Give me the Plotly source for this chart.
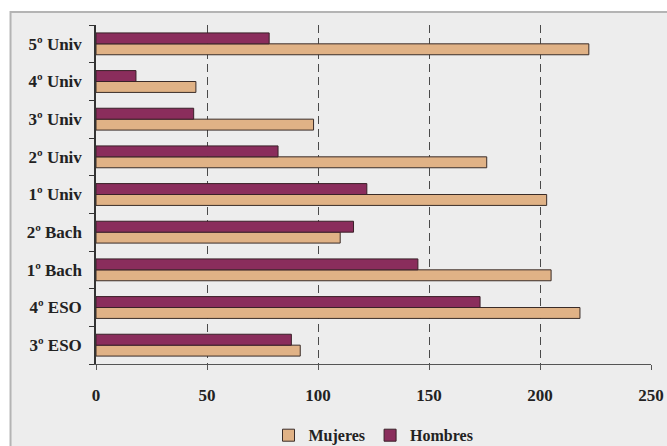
import plotly.graph_objects as go

categories = ["3º ESO", "4º ESO", "1º Bach", "2º Bach", "1º Univ", "2º Univ", "3º Univ", "4º Univ", "5º Univ"]
mujeres = [92, 218, 205, 110, 203, 176, 98, 45, 222]
hombres = [88, 173, 145, 116, 122, 82, 44, 18, 78]
x_ticks = [0, 50, 100, 150, 200, 250]

font_family = "Liberation Serif"

fig = go.Figure()
fig.add_trace(go.Bar(
    y=categories, x=mujeres, name="Mujeres", orientation="h",
    marker=dict(color="#e0b286", line=dict(color="#3a2c28", width=1)),
))
fig.add_trace(go.Bar(
    y=categories, x=hombres, name="Hombres", orientation="h",
    marker=dict(color="#8a2d5c", line=dict(color="#3a2028", width=1)),
))

fig.update_layout(
    width=667, height=446,
    margin=dict(l=95.5, r=16, t=25, b=82, autoexpand=False),
    paper_bgcolor="white",
    plot_bgcolor="rgba(0,0,0,0)",
    barmode="group",
    bargap=0.42,
    bargroupgap=0,
    font=dict(family=font_family, size=17, color="#222222"),
    showlegend=True,
    legend=dict(
        orientation="h", x=0.5, xanchor="center",
        yref="container", y=0.024, yanchor="middle",
        font=dict(family=font_family, size=16, color="#222222", weight="bold"),
        bgcolor="rgba(0,0,0,0)", traceorder="normal",
    ),
    shapes=[dict(
        type="rect", xref="paper", yref="paper",
        x0=-0.154, x1=1.2, y0=-0.5, y1=1.038,
        fillcolor="#ededed", line=dict(color="#b4b4b4", width=2),
        layer="below",
    )],
)

fig.update_xaxes(
    range=[0, 250], tickvals=x_ticks, ticktext=[str(v) for v in x_ticks],
    showgrid=True, gridcolor="#4a4a4a", griddash="8px,5px", gridwidth=1,
    showline=True, linecolor="#555555", linewidth=1,
    ticks="outside", ticklen=5, tickcolor="#555555",
    tickfont=dict(family=font_family, size=17, color="#222222", weight="bold"),
    ticklabelstandoff=11, zeroline=False, fixedrange=True, automargin=False,
)
fig.update_yaxes(
    categoryorder="array", categoryarray=categories,
    showline=True, linecolor="#333333", linewidth=1.5,
    ticks="outside", ticklen=5, tickcolor="#333333", tickson="boundaries",
    tickfont=dict(family=font_family, size=17, color="#222222", weight="bold"),
    ticklabelstandoff=9, showgrid=False, fixedrange=True, automargin=False,
)

fig.write_html(
    "out.html",
    config={"displayModeBar": False},
    post_script="document.body.style.margin='0';document.body.style.overflow='hidden';",
)
